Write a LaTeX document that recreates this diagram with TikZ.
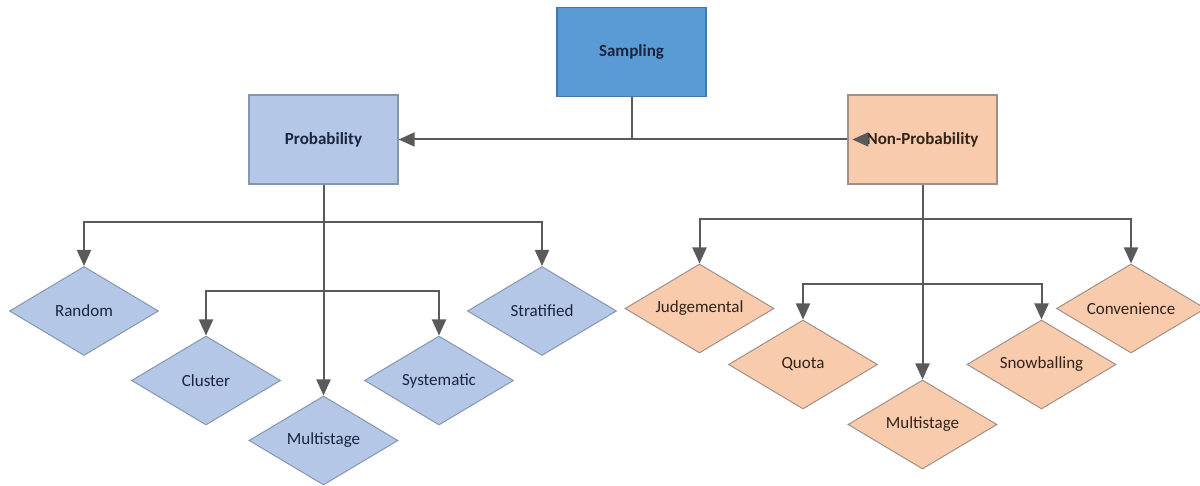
\documentclass[tikz,border=0pt]{standalone}
\usepackage{fontspec}
\setmainfont{Carlito}
\usetikzlibrary{arrows.meta,shapes.geometric}
\definecolor{sampfill}{HTML}{5B9BD5}
\definecolor{sampdraw}{HTML}{4A76A8}
\definecolor{bluefill}{HTML}{B4C7E7}
\definecolor{bluedraw}{HTML}{8497B0}
\definecolor{orfill}{HTML}{F8CBAD}
\definecolor{ordraw}{HTML}{A0908A}
\definecolor{bluetext}{HTML}{1A2540}
\definecolor{ortext}{HTML}{33241A}
\definecolor{linecol}{HTML}{5A5A5A}
\tikzset{
  topbox/.style={rectangle, minimum width=149pt, minimum height=89pt, inner sep=0pt, line width=1.3pt, font=\fontsize{17}{20}\selectfont\bfseries},
  diabase/.style={diamond, aspect=1.674, minimum width=149pt, minimum height=89pt, inner sep=0pt, line width=1pt, font=\fontsize{17}{20}\selectfont},
  bluedia/.style={diabase, draw=bluedraw, fill=bluefill, text=bluetext},
  ordia/.style={diabase, draw=ordraw, fill=orfill, text=ortext},
  conn/.style={draw=linecol, line width=2pt, -{Triangle[length=16pt,width=14pt]}},
  plainline/.style={draw=linecol, line width=2pt},
}
\begin{document}
\begin{tikzpicture}[x=1pt,y=-1pt]
\useasboundingbox (0,0) rectangle (1200,486);
% top boxes
\node[topbox, draw=sampdraw, fill=sampfill, text=bluetext] (samp) at (631.5,52) {Sampling};
\node[topbox, draw=bluedraw, fill=bluefill, text=bluetext] (prob) at (323.5,139.5) {Probability};
\node[topbox, draw=ordraw, fill=orfill, text=ortext] (np) at (922.5,139.5) {Non-Probability};
% probability diamonds
\node[bluedia] (rand) at (84,311) {Random};
\node[bluedia] (clus) at (206,380.5) {Cluster};
\node[bluedia] (pmulti) at (323.5,440.5) {Multistage};
\node[bluedia] (syst) at (439,380.5) {Systematic};
\node[bluedia] (strat) at (542,311) {Stratified};
% non-probability diamonds
\node[ordia] (judg) at (699.5,308.5) {Judgemental};
\node[ordia] (quota) at (803,364.5) {Quota};
\node[ordia] (nmulti) at (922.5,424.5) {Multistage};
\node[ordia] (snow) at (1041.5,364.5) {Snowballing};
\node[ordia] (conv) at (1131,308.5) {Convenience};
% top connectors
\draw[conn] (samp.south) |- (prob.east);
\draw[plainline] (samp.south) |- (np.west);
\draw[conn] ([xshift=21pt]np.west) -- ([xshift=5pt]np.west);
% probability connectors
\coordinate (pa) at (323.5,222);
\coordinate (pb) at (323.5,291);
\draw[conn] (prob.south) -- (pmulti.north);
\draw[conn] (pa) -| (rand.north);
\draw[conn] (pa) -| (strat.north);
\draw[conn] (pb) -| (clus.north);
\draw[conn] (pb) -| (syst.north);
% non-probability connectors
\coordinate (na) at (922.5,219);
\coordinate (nb) at (922.5,284);
\draw[conn] (np.south) -- (nmulti.north);
\draw[conn] (na) -| (judg.north);
\draw[conn] (na) -| (conv.north);
\draw[conn] (nb) -| (quota.north);
\draw[conn] (nb) -| (snow.north);
\end{tikzpicture}
\end{document}
